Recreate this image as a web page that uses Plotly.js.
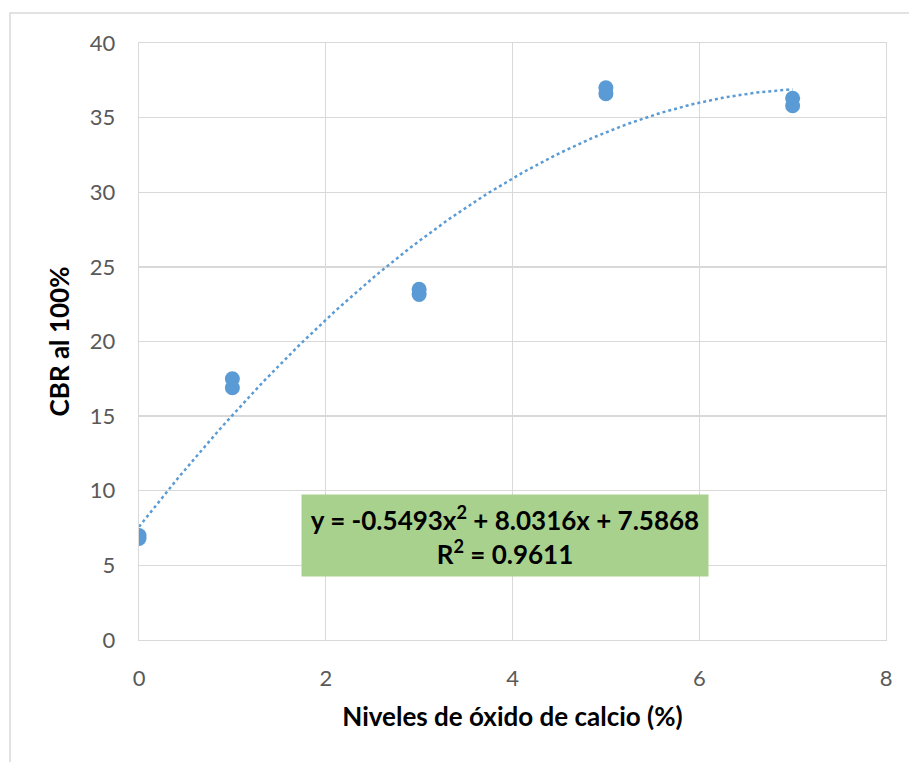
<!DOCTYPE html>
<html>
<head>
<meta charset="utf-8">
<script src="https://cdn.plot.ly/plotly-3.0.1.min.js"></script>
<style>
  html, body { margin: 0; padding: 0; background: #ffffff; }
  #chart { width: 909px; height: 762px; }
</style>
</head>
<body>
<div id="chart"></div>
<script>
// CaO dosage levels (%) and measured CBR at 100% compaction
const nivelesCaO = [0, 0, 1, 1, 3, 3, 5, 5, 7, 7];
const cbr100 = [7.0, 6.8, 17.5, 16.9, 23.5, 23.15, 37.0, 36.6, 36.3, 35.8];

// Second-order polynomial trendline: y = a*x^2 + b*x + c
const trendCoef = [-0.5493, 8.0316, 7.5868];
const trendR2 = 0.9611;
const trendRange = [0, 7];

const xTicks = [0, 2, 4, 6, 8];
const yTicks = [0, 5, 10, 15, 20, 25, 30, 35, 40];

const trendX = [];
const trendY = [];
for (let i = 0; i <= 140; i++) {
  const x = trendRange[0] + (trendRange[1] - trendRange[0]) * i / 140;
  trendX.push(x);
  trendY.push(trendCoef[0] * x * x + trendCoef[1] * x + trendCoef[2]);
}

const fmt = v => v.toFixed(4);
const eqText =
  'y = ' + fmt(trendCoef[0]) + 'x<sup>2</sup> + ' + fmt(trendCoef[1]) +
  'x + ' + fmt(trendCoef[2]) + '<br>R<sup>2</sup> = ' + fmt(trendR2);

const blue = '#5b9bd5';
const grid = '#d9d9d9';
const family = 'Lato, Carlito, Calibri, sans-serif';

const traces = [
  {
    x: trendX, y: trendY, mode: 'lines', type: 'scatter',
    line: { color: blue, width: 2.5, dash: 'dot' },
    hoverinfo: 'skip', showlegend: false
  },
  {
    x: nivelesCaO, y: cbr100, mode: 'markers', type: 'scatter',
    marker: { color: blue, size: 15 },
    showlegend: false
  }
];

const axisFont = { family: family, size: 22, color: '#595959' };
const titleFont = { family: family, size: 26, color: '#000000', weight: 'bold' };

const layout = {
  width: 909, height: 762,
  margin: { l: 139, r: 23, t: 43, b: 122 },
  paper_bgcolor: '#ffffff', plot_bgcolor: '#ffffff',
  showlegend: false,
  xaxis: {
    range: [0, 8], tickvals: xTicks, ticktext: xTicks.map(String),
    showgrid: true, gridcolor: grid, gridwidth: 1.3,
    zeroline: false, showline: true, linecolor: grid, linewidth: 1.3, mirror: true,
    ticks: '', ticklabelstandoff: 18, tickfont: axisFont,
    title: { text: '<b>Niveles de óxido de calcio (%)</b>', font: titleFont, standoff: 18 }
  },
  yaxis: {
    range: [0, 40], tickvals: yTicks, ticktext: yTicks.map(String),
    showgrid: true, gridcolor: grid, gridwidth: 1.3,
    zeroline: false, showline: true, linecolor: grid, linewidth: 1.3, mirror: true,
    ticks: '', ticklabelstandoff: 18, tickfont: axisFont,
    title: { text: '<b>CBR al 100%</b>', font: titleFont, standoff: 12 }
  },
  annotations: [
    {
      x: 3.92, y: 7.03, xref: 'x', yref: 'y',
      xanchor: 'center', yanchor: 'middle',
      text: '<b>' + eqText + '</b>',
      showarrow: false,
      bgcolor: '#a9d18e',
      width: 406, height: 81, borderpad: 0,
      font: { family: family, size: 26, color: '#000000' },
      align: 'center'
    }
  ],
  shapes: [
    {
      type: 'rect', xref: 'paper', yref: 'paper',
      x0: -0.1727, x1: 1.2, y0: -0.5, y1: 1.0503,
      line: { color: grid, width: 1.5 }, fillcolor: 'rgba(0,0,0,0)', layer: 'below'
    }
  ]
};

Plotly.newPlot('chart', traces, layout, { displayModeBar: false, staticPlot: true });
</script>
</body>
</html>
